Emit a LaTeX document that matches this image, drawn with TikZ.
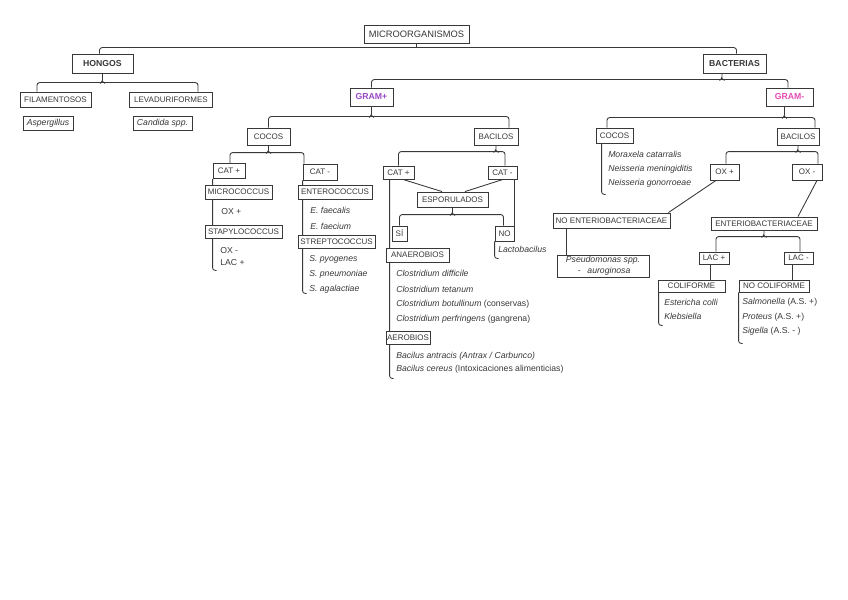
\documentclass[tikz,border=0pt]{standalone}
\usepackage{fontspec}
\setmainfont{Liberation Sans}
\usetikzlibrary{calc,backgrounds}
\definecolor{ln}{HTML}{383838}
\definecolor{gp}{HTML}{9B47C8}
\definecolor{gn}{HTML}{E44AB6}
\newcommand\bracestub[2]{\draw[conn,rounded corners=1pt] (#1) -- ++(0,#2-2) -- ++(-2.5,2) ++(2.5,-2) -- ++(2.5,2);}
\begin{document}
\begin{tikzpicture}[x=0.75pt,y=-0.75pt,
  bx/.style n args={2}{draw=ln, fill=white, line width=0.65pt, inner sep=0pt,
    minimum width=#1*0.75pt, minimum height=#2*0.75pt,
    font=\fontsize{6}{7}\selectfont, text=ln},
  tx/.style={anchor=west, inner sep=0pt, font=\fontsize{6.5}{7.5}\selectfont\itshape, text=ln},
  tu/.style={anchor=west, inner sep=0pt, font=\fontsize{6.5}{7.5}\selectfont, text=ln},
  it/.style={font=\fontsize{6.5}{7.5}\selectfont\itshape},
  bd/.style={font=\fontsize{6.5}{7.5}\selectfont\bfseries},
  conn/.style={draw=ln, line width=0.65pt, rounded corners=2pt},
]
\useasboundingbox (0,0) rectangle (848,599);
% boxes
\node[bx={105}{18}, font=\fontsize{7}{8}\selectfont] (micro) at (416.5,34) {MICROORGANISMOS};
\node[bx={61}{19}, bd] (hongos) at (102.5,63.5) {HONGOS};
\node[bx={63}{19}, bd] (bacterias) at (734.5,63.5) {BACTERIAS};
\node[bx={71}{15}] (fil) at (55.5,99.5) {FILAMENTOSOS};
\node[bx={83}{15}] (lev) at (171,99.5) {LEVADURIFORMES};
\node[bx={50}{14}, it] (asp) at (48,123) {Aspergillus};
\node[bx={59}{14}, it] (cand) at (162.5,123) {Candida spp.};
\node[bx={43}{18}, bd, text=gp] (gramp) at (371.5,97) {GRAM+};
\node[bx={47}{18}, bd, text=gn] (gramn) at (789.5,97) {GRAM-};
\node[bx={43}{17}] (cocosA) at (268.5,136.5) {COCOS};
\node[bx={44}{17}] (bacA) at (496,136.5) {BACILOS};
\node[bx={32}{15}] (catAp) at (229,171) {CAT +};
\node[bx={34}{16}] (catAn) at (320,172) {CAT -};
\node[bx={67}{14}] (micrococ) at (238.5,192) {MICROCOCCUS};
\node[bx={77}{13}] (stap) at (243.5,231.5) {STAPYLOCOCCUS};
\node[bx={74}{14}] (enteroc) at (335,192) {ENTEROCOCCUS};
\node[bx={77}{13}] (strepto) at (336.5,241.5) {STREPTOCOCCUS};
\node[bx={31}{13}] (catBp) at (398.5,172.5) {CAT +};
\node[bx={29}{13}] (catBn) at (502.5,172.5) {CAT -};
\node[bx={71}{15}] (espor) at (452.5,199.5) {ESPORULADOS};
\node[bx={15}{15}] (si) at (399.5,233.5) {SÍ};
\node[bx={19}{15}] (no) at (504.5,233.5) {NO};
\node[bx={63}{14}] (anaer) at (417.5,255) {ANAEROBIOS};
\node[bx={44}{13}] (aer) at (408,337.5) {AEROBIOS};
\node[bx={37}{15}] (cocosB) at (614.5,135.5) {COCOS};
\node[bx={42}{17}] (bacB) at (798,136.5) {BACILOS};
\node[bx={29}{16}] (oxp) at (724.5,172) {OX +};
\node[bx={30}{16}] (oxn) at (807,172) {OX -};
\node[bx={117}{15}] (noent) at (611.5,220.5) {NO ENTERIOBACTERIACEAE};
\node[bx={106}{13}] (ent) at (764,223.5) {ENTERIOBACTERIACEAE};
\node[bx={92}{22}, align=left, font=\fontsize{6.5}{8}\selectfont] (pseudo) at (603,266)
  {\textit{Pseudomonas spp.}\\\hspace*{9pt}-\hspace*{5pt}\textit{auroginosa}};
\node[bx={30}{12}] (lacp) at (714,258) {LAC +};
\node[bx={29}{12}] (lacn) at (798.5,258) {LAC -};
\node[bx={67}{12}] (colif) at (691.5,286) {COLIFORME};
\node[bx={70}{12}] (nocolif) at (774,286) {NO COLIFORME};
% plain texts
\node[tu] (oxA) at (221,212) {OX +};
\node[tu] (oxB) at (220,251) {OX -};
\node[tu] (lacA) at (220,263) {LAC +};
\node[tx] (efa) at (310,210) {E. faecalis};
\node[tx] (efm) at (310,226) {E. faecium};
\node[tx] (spy) at (309,259) {S. pyogenes};
\node[tx] (spn) at (309,274) {S. pneumoniae};
\node[tx] (sag) at (309,289) {S. agalactiae};
\node[tx] (lacto) at (498,249) {Lactobacilus};
\node[tx] (cl1) at (396,273) {Clostridium difficile};
\node[tx] (cl2) at (396,289) {Clostridium tetanum};
\node[tx] (cl3) at (396,304) {Clostridium botullinum \upshape(conservas)};
\node[tx] (cl4) at (396,319) {Clostridium perfringens \upshape(gangrena)};
\node[tx] (ba1) at (396,356) {Bacilus antracis (Antrax / Carbunco)};
\node[tx] (ba2) at (396,369) {Bacilus cereus \upshape(Intoxicaciones alimenticias)};
\node[tx] (mo1) at (608,154) {Moraxela catarralis};
\node[tx] (mo2) at (608,169) {Neisseria meningiditis};
\node[tx] (mo3) at (608,183) {Neisseria gonorroeae};
\node[tx] (ec) at (664,302) {Estericha colli};
\node[tx] (kl) at (664,316) {Klebsiella};
\node[tx] (sa) at (742,302) {Salmonella \upshape(A.S. +)};
\node[tx] (pr) at (742,317) {Proteus \upshape(A.S. +)};
\node[tx] (sg) at (742,331) {Sigella \upshape(A.S. - )};
% connectors
\begin{pgfonlayer}{background}
\draw[conn] (micro.south) -- ++(0,5);
\draw[conn] ($(hongos.north)+(-3,0)$) -- ++(0,-6) -| ($(bacterias.north)+(2,0)$);
\bracestub{hongos.south}{10}
\draw[conn] ($(fil.north)+(-18.5,0)$) -- ++(0,-9) -| ($(lev.north)+(27,0)$);
\bracestub{$(bacterias.south)+(-12.5,0)$}{7}
\draw[conn] (gramp.north) -- ++(0,-8) -| ($(gramn.north)+(-1.5,0)$);
\bracestub{gramp.south}{11}
\draw[conn] (cocosA.north) -- ++(0,-11) -| ($(bacA.north)+(13,0)$);
\bracestub{$(gramn.south)+(-5,0)$}{12}
\draw[conn] ($(cocosB.north)+(-7.5,0)$) -- ++(0,-10) -| ($(bacB.north)+(17,0)$);
\bracestub{cocosA.south}{8}
\draw[conn] ($(catAp.north)+(1,0)$) -- ++(0,-10.5) -| ($(catAn.north)+(-16,0)$);
\bracestub{bacA.south}{7}
\draw[conn] (catBp.north) -- ++(0,-14) -| ($(catBn.north)+(2.5,0)$);
\draw[conn] ($(catBp.south)+(4.5,0)$) -- ($(espor.north)+(-10.5,0)$);
\draw[conn] ($(catBn.south)+(0.5,0)$) -- ($(espor.north)+(12.5,0)$);
\bracestub{espor.south}{8}
\draw[conn] (si.north) -- ++(0,-11) -| ($(no.north)+(-1,0)$);
\draw[conn] (catAp.south west) -- ++(0,91.5) -- ++(4,0);
\draw[conn] (catAn.south west) -- ++(0,113) -- ++(4,0);
\draw[conn] ($(catBp.south west)+(7,0)$) -- ++(0,199) -- ++(4,0);
\draw[conn] ($(catBn.south east)+(-3,0)$) -- (no.north east);
\draw[conn] (no.south west) -- ++(0,17) -- ++(4,0);
\draw[conn] ($(cocosB.south west)+(6,0)$) -- ++(0,51) -- ++(4,0);
\bracestub{bacB.south}{7}
\draw[conn] ($(oxp.north)+(1.5,0)$) -- ++(0,-12) -| ($(oxn.north)+(11,0)$);
\draw[conn] ($(oxp.south)+(-8.5,0)$) -- ($(noent.north east)+(-2,0)$);
\draw[conn] ($(oxn.south)+(10,0)$) -- ($(ent.north)+(34,0)$);
\draw[conn] ($(noent.south west)+(14,0)$) -- ($(pseudo.north west)+(10,0)$);
\bracestub{ent.south}{7}
\draw[conn] ($(lacp.north)+(2,0)$) -- ++(0,-15) -| ($(lacn.north)+(1.5,0)$);
\draw[conn] ($(lacp.south)+(-4,0)$) -- ($(colif.north)+(18.5,0)$);
\draw[conn] ($(lacn.south)+(-6.5,0)$) -- ($(nocolif.north)+(18,0)$);
\draw[conn] ($(colif.south west)+(1,0)$) -- ++(0,33) -- ++(4,0);
\draw[conn] (nocolif.south west) -- ++(0,51) -- ++(4,0);
\end{pgfonlayer}
\end{tikzpicture}
\end{document}
